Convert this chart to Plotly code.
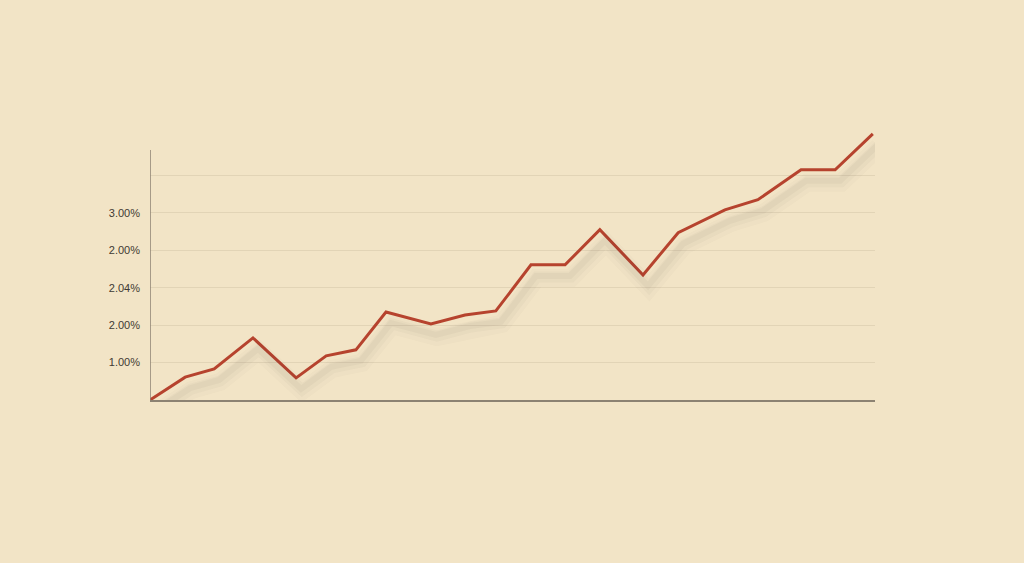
import plotly.graph_objects as go

# Data (x position index, y in gridline units)
x_vals = [0.0, 0.97, 1.77, 2.84, 4.03, 4.86, 5.68, 6.51, 7.75, 8.69, 9.54,
          10.51, 11.45, 12.41, 13.6, 14.57, 15.86, 16.77, 17.96, 18.9, 19.94]
y_vals = [0.0, 0.61, 0.83, 1.66, 0.59, 1.18, 1.34, 2.35, 2.03, 2.27, 2.38,
          3.61, 3.61, 4.55, 3.34, 4.47, 5.08, 5.35, 6.15, 6.15, 7.11]
tick_vals = [1, 2, 3, 4, 5, 6]
tick_text = ["1.00%", "2.00%", "2.04%", "2.00%", "3.00%", ""]
axis_top = 6.68

W, H = 1024, 563
y_range = [0, 7.4]
x_range = [0, 20]
unit_px = 37.4
ph = y_range[1] * unit_px
mb = 163
mt = H - mb - ph
ml, mr = 150, 149
pw = W - ml - mr
ux = (x_range[1] - x_range[0]) / pw
uy = (y_range[1] - y_range[0]) / ph

bg = "#f2e4c6"
fig = go.Figure()

# soft shadow layers on offset axes
shadow_layers = [(6, 13, 18, 0.02), (6, 12, 11, 0.03), (5, 11, 6, 0.04)]
for i, (dx, dy, w, op) in enumerate(shadow_layers):
    n = i + 2
    fig.add_trace(go.Scatter(
        x=x_vals, y=y_vals, mode="lines",
        line=dict(color=f"rgba(70,62,50,{op})", width=w),
        xaxis=f"x{n}", yaxis=f"y{n}", hoverinfo="skip", showlegend=False))
    fig.layout[f"xaxis{n}"] = dict(range=[x_range[0] - dx * ux, x_range[1] - dx * ux],
                                  overlaying="x", visible=False)
    fig.layout[f"yaxis{n}"] = dict(range=[y_range[0] + dy * uy, y_range[1] + dy * uy],
                                  overlaying="y", visible=False)

fig.add_trace(go.Scatter(
    x=x_vals, y=y_vals, mode="lines",
    line=dict(color="#b6432e", width=3), showlegend=False))

# vertical axis line (stops below the top of the plotting area)
fig.add_shape(type="line", xref="x", yref="y", x0=x_range[0], x1=x_range[0],
              y0=0, y1=axis_top, line=dict(color="#8c8272", width=1.5), layer="above")

fig.update_layout(
    width=W, height=H,
    margin=dict(l=ml, r=mr, t=mt, b=mb, pad=0),
    paper_bgcolor=bg, plot_bgcolor=bg,
    showlegend=False,
    xaxis=dict(range=x_range, showgrid=False, zeroline=False,
               showline=True, linecolor="#8c8272", linewidth=1.5,
               showticklabels=False, ticks=""),
    yaxis=dict(range=y_range, tickvals=tick_vals, ticktext=tick_text,
               showgrid=True, gridcolor="#e2d4b6", gridwidth=1,
               zeroline=False, showline=False,
               ticks="", ticklabelstandoff=9,
               tickfont=dict(family="Liberation Sans, Arial", size=11, color="#3f3a33")),
)

fig.write_html("out.html", config={"displayModeBar": False},
               post_script="document.body.style.margin='0';document.body.style.background='%s';" % bg)
